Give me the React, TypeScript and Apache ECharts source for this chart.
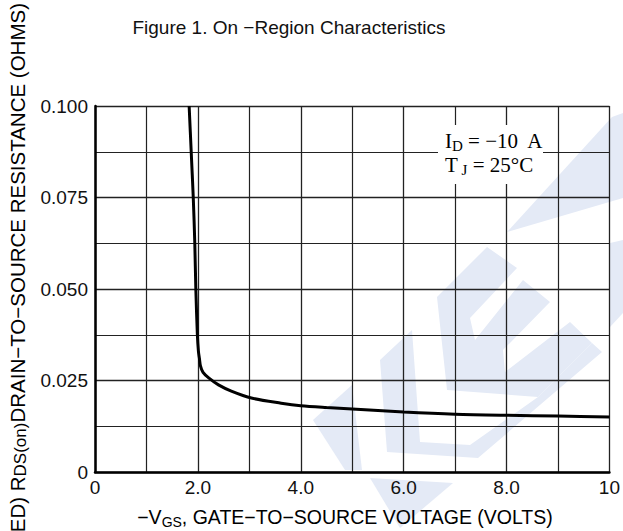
import React, { useEffect, useRef } from 'react';
import * as echarts from 'echarts';

// -VGS (volts)
const vgs = [1.83, 1.87, 1.91, 1.94, 1.96, 1.99, 2.01, 2.03, 2.05, 2.1, 2.21, 2.4, 2.65, 3.04, 3.62, 4.0, 4.5, 5.0, 6.0, 7.0, 8.0, 9.0, 10.0];
// RDS(on) (ohms)
const rds = [0.1, 0.0875, 0.075, 0.0625, 0.05, 0.0375, 0.033, 0.031, 0.029, 0.0272, 0.0257, 0.0238, 0.0221, 0.0202, 0.0188, 0.0181, 0.0176, 0.0172, 0.0164, 0.0158, 0.0155, 0.0153, 0.015];

const titleText = 'Figure 1. On −Region Characteristics';
const xName = '{n|−V}{s|GS}{n|, GATE−TO−SOURCE VOLTAGE (VOLTS)}';
const yName = '{n|(NORMALIZED) R}{s|DS(on)}{n|DRAIN−TO−SOURCE RESISTANCE (OHMS)}';
const noteLines = ['{n|I}{s|D}{n| = −10  A}', '{n|T}{s| J}{n| = 25°C}'];

const wm = '#e4eaf6';
const watermark = [
  [[313, 420], [352, 385], [362, 470], [345, 470]],
  [[380, 360], [412, 330], [420, 442], [470, 445], [538, 397], [592, 343], [602, 352], [478, 458], [387, 452]],
  [[437, 297], [487, 247], [517, 268], [470, 318], [475, 340], [523, 280], [550, 302], [503, 350], [505, 372], [570, 322], [592, 343], [538, 397], [447, 390]],
  [[507, 232], [623, 198], [623, 113], [612, 117]],
  [[610, 243], [623, 240], [623, 313], [610, 327]],
  [[370, 478], [453, 483], [400, 528]],
];

export default function App() {
  const ref = useRef<HTMLDivElement>(null);
  useEffect(() => {
    document.body.style.margin = '0';
    const chart = echarts.init(ref.current!, null, { renderer: 'svg' });
    const font = '"Liberation Sans", Arial, sans-serif';
    const richX = {
      n: { fontSize: 19.5, fontFamily: font, color: '#111' },
      s: { fontSize: 14, fontFamily: font, color: '#111', padding: [9, 0, 0, 0] },
    };
    const richY = {
      n: { fontSize: 20.5, fontFamily: font, color: '#111' },
      s: { fontSize: 17, fontFamily: font, color: '#111', padding: [7, 0, 0, 0] },
    };
    const serif = '"Liberation Serif", "DejaVu Serif", serif';
    const noteRich = {
      n: { fontSize: 21, fontFamily: serif, color: '#222' },
      s: { fontSize: 15, fontFamily: serif, color: '#222', padding: [9, 0, 0, 0] },
    };
    chart.setOption({
      animation: false,
      backgroundColor: '#fff',
      grid: { left: 95, right: 8, top: 106, bottom: 59, containLabel: false },
      xAxis: {
        type: 'value',
        min: 0,
        max: 10,
        interval: 2,
        axisLine: { show: true, onZero: false, lineStyle: { color: '#000', width: 2.5 } },
        axisTick: { show: false },
        minorTick: { show: true, splitNumber: 2, length: 0 },
        minorSplitLine: { show: true, lineStyle: { color: '#222', width: 1.2 } },
        splitLine: { show: true, lineStyle: { color: '#222', width: 1.3 } },
        axisLabel: {
          margin: 6,
          fontSize: 19,
          fontFamily: font,
          color: '#111',
          formatter: (v: number) => (v === 0 ? '0' : v === 10 ? '10' : v.toFixed(1)),
        },
      },
      yAxis: {
        type: 'value',
        min: 0,
        max: 0.1,
        interval: 0.025,
        axisLine: { show: true, onZero: false, lineStyle: { color: '#000', width: 2.5 } },
        axisTick: { show: false },
        minorTick: { show: true, splitNumber: 2, length: 0 },
        minorSplitLine: { show: true, lineStyle: { color: '#222', width: 1.2 } },
        splitLine: { show: true, lineStyle: { color: '#222', width: 1.3 } },
        axisLabel: {
          margin: 7,
          fontSize: 19,
          fontFamily: font,
          color: '#111',
          formatter: (v: number) => (v === 0 ? '0' : v.toFixed(3)),
        },
      },
      series: [
        {
          type: 'line',
          data: vgs.map((v, i) => [v, rds[i]]),
          showSymbol: false,
          smooth: 0.3,
          clip: true,
          lineStyle: { color: '#000', width: 3 },
          z: 5,
        },
      ],
      graphic: [
        ...watermark.map((pts) => ({
          type: 'polygon',
          shape: { points: pts },
          style: { fill: wm },
          z: -10,
          silent: true,
        })),
        {
          type: 'text',
          x: 289,
          y: 27,
          style: { text: titleText, fontSize: 19, fontFamily: font, fill: '#111', align: 'center', verticalAlign: 'middle' },
        },
        {
          type: 'text',
          x: 345,
          y: 517,
          style: { text: xName, rich: richX, align: 'center', verticalAlign: 'middle' },
        },
        {
          type: 'text',
          x: 17,
          y: 3,
          rotation: Math.PI / 2,
          style: { text: yName, rich: richY, align: 'right', verticalAlign: 'middle' },
        },
        {
          type: 'rect',
          shape: { x: 438, y: 125, width: 105, height: 59 },
          style: { fill: '#fff' },
          z: 50,
        },
        {
          type: 'text',
          x: 445,
          y: 153,
          z: 51,
          style: { text: noteLines.join('\n'), rich: noteRich, align: 'left', verticalAlign: 'middle', lineHeight: 24 },
        },
      ],
    });
    return () => chart.dispose();
  }, []);
  return <div ref={ref} style={{ width: 623, height: 531 }} />;
}
